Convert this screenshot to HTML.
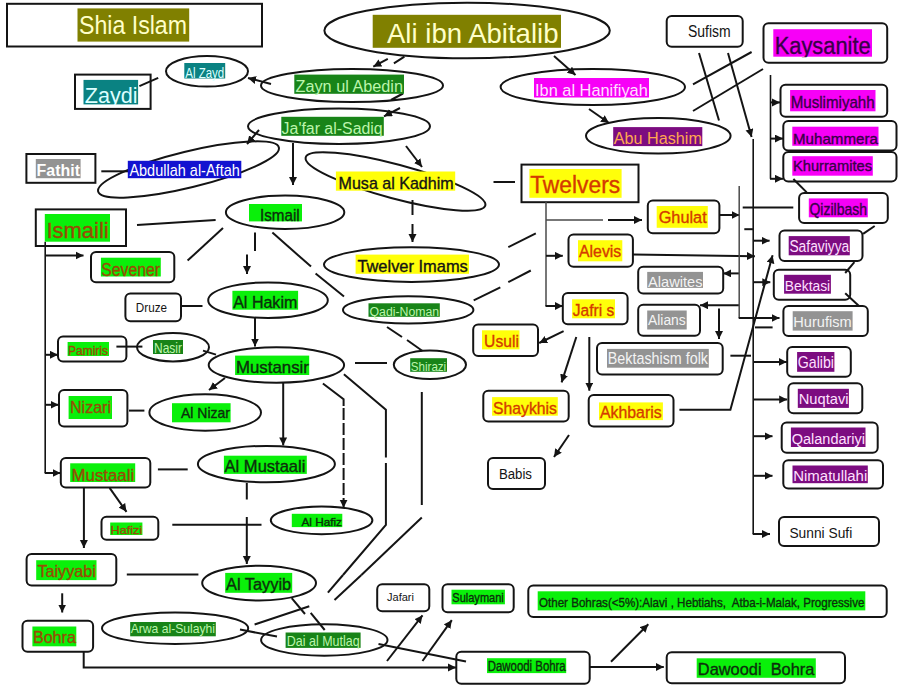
<!DOCTYPE html>
<html><head><meta charset="utf-8"><style>
html,body{margin:0;padding:0;background:#fff;}
body{width:900px;height:695px;overflow:hidden;}
svg{display:block;font-family:"Liberation Sans",sans-serif;}
.s{fill:#fff;stroke:#141414;stroke-width:2;}
.l{fill:none;stroke:#141414;stroke-width:2;}
.lt{fill:none;stroke:#4a4a4a;stroke-width:1.5;}
.lm{fill:none;stroke:#141414;stroke-width:1.6;}
text{stroke-width:0.35;paint-order:stroke;white-space:pre;}
</style></head><body>
<svg width="900" height="695" viewBox="0 0 900 695">
<defs><clipPath id="c0"><rect x="83.5" y="79.9" width="54.6" height="25.0"/></clipPath><clipPath id="c1"><rect x="773.3" y="29.2" width="98.7" height="28.0"/></clipPath><marker id="ah" markerUnits="userSpaceOnUse" markerWidth="10" markerHeight="10" refX="8" refY="4" orient="auto"><path d="M0,0 L8,4 L0,8 z" fill="#141414"/></marker></defs>
<rect x="7" y="3.8" width="255.0" height="42.7" rx="0" class="s"/>
<rect x="75" y="74.6" width="75.6" height="34.3" rx="0" class="s"/>
<rect x="26.4" y="154" width="69.0" height="28.8" rx="0" class="s"/>
<rect x="35.8" y="209.4" width="90.2" height="36.6" rx="0" class="s"/>
<rect x="91" y="252" width="83.3" height="30.3" rx="5" class="s"/>
<rect x="125.4" y="293.4" width="55.6" height="27.9" rx="5" class="s"/>
<rect x="58" y="336.6" width="68.4" height="24.8" rx="5" class="s"/>
<rect x="59" y="390" width="68.4" height="36.6" rx="5" class="s"/>
<rect x="60.8" y="458" width="89.5" height="29.6" rx="5" class="s"/>
<rect x="101.5" y="516.7" width="56.8" height="23.1" rx="5" class="s"/>
<rect x="26.6" y="554.1" width="89.7" height="31.5" rx="5" class="s"/>
<rect x="22.5" y="620.8" width="70.6" height="31.0" rx="5" class="s"/>
<rect x="521.5" y="164.6" width="117.0" height="37.6" rx="0" class="s"/>
<rect x="647.8" y="200.5" width="71.6" height="32.8" rx="5" class="s"/>
<rect x="568.5" y="234.5" width="64.4" height="32.3" rx="5" class="s"/>
<rect x="638.2" y="266.8" width="85.0" height="26.8" rx="5" class="s"/>
<rect x="638.2" y="304.8" width="61.8" height="31.0" rx="5" class="s"/>
<rect x="562.8" y="293" width="64.8" height="31.2" rx="5" class="s"/>
<rect x="473.2" y="324.4" width="64.8" height="31.6" rx="5" class="s"/>
<rect x="597" y="343" width="125.7" height="31.5" rx="5" class="s"/>
<rect x="483.3" y="390.7" width="85.4" height="30.9" rx="5" class="s"/>
<rect x="588.7" y="395.1" width="84.8" height="31.5" rx="5" class="s"/>
<rect x="488" y="458" width="57.0" height="31.0" rx="5" class="s"/>
<rect x="666.7" y="15.9" width="76.0" height="30.9" rx="5" class="s"/>
<rect x="763.5" y="23.3" width="123.7" height="39.5" rx="5" class="s"/>
<rect x="780.5" y="84.7" width="106.7" height="32.0" rx="5" class="s"/>
<rect x="783.3" y="120.9" width="113.2" height="29.6" rx="5" class="s"/>
<rect x="783.3" y="152" width="113.2" height="29.6" rx="5" class="s"/>
<rect x="799.1" y="193.1" width="88.7" height="29.9" rx="5" class="s"/>
<rect x="779.5" y="230.6" width="83.0" height="30.4" rx="5" class="s"/>
<rect x="773.8" y="269.8" width="76.4" height="29.9" rx="5" class="s"/>
<rect x="783.4" y="306" width="84.4" height="29.9" rx="5" class="s"/>
<rect x="787.2" y="346.9" width="63.6" height="29.9" rx="5" class="s"/>
<rect x="788.4" y="383.3" width="73.9" height="29.9" rx="5" class="s"/>
<rect x="781.7" y="422.4" width="96.0" height="30.4" rx="5" class="s"/>
<rect x="783.3" y="460.2" width="99.7" height="28.3" rx="5" class="s"/>
<rect x="779" y="517" width="100.0" height="29.0" rx="5" class="s"/>
<rect x="377.2" y="584.3" width="52.1" height="26.9" rx="5" class="s"/>
<rect x="442.5" y="584.3" width="71.2" height="28.0" rx="5" class="s"/>
<rect x="528.3" y="585.6" width="358.4" height="31.3" rx="5" class="s"/>
<rect x="456.3" y="651.8" width="133.4" height="32.0" rx="5" class="s"/>
<rect x="666.7" y="652.2" width="178.3" height="31.1" rx="5" class="s"/>
<ellipse cx="467.1" cy="30.5" rx="142.7" ry="27.8" class="s"/>
<ellipse cx="207.0" cy="71.3" rx="41.0" ry="15.3" class="s"/>
<ellipse cx="352.0" cy="85.5" rx="91.0" ry="16.5" class="s"/>
<ellipse cx="339.0" cy="126.3" rx="91.0" ry="17.7" class="s"/>
<ellipse cx="188.5" cy="169.5" rx="93" ry="18" class="s" transform="rotate(-13.7 188.5 169.5)"/>
<ellipse cx="395.5" cy="181.5" rx="93" ry="17" class="s" transform="rotate(15 395.5 181.5)"/>
<ellipse cx="592.8" cy="87.0" rx="92.2" ry="18.0" class="s"/>
<ellipse cx="658.3" cy="135.8" rx="72.3" ry="17.8" class="s"/>
<ellipse cx="285.1" cy="212.3" rx="59.2" ry="16.7" class="s"/>
<ellipse cx="411.5" cy="264.6" rx="87.5" ry="17.3" class="s"/>
<ellipse cx="268.0" cy="300.2" rx="59.8" ry="17.8" class="s"/>
<ellipse cx="408.2" cy="309.9" rx="65.2" ry="13.6" class="s"/>
<ellipse cx="173.0" cy="347.2" rx="36.0" ry="14.2" class="s"/>
<ellipse cx="276.4" cy="365.0" rx="67.7" ry="17.8" class="s"/>
<ellipse cx="429.9" cy="364.8" rx="36.1" ry="14.2" class="s"/>
<ellipse cx="205.2" cy="412.5" rx="55.8" ry="18.2" class="s"/>
<ellipse cx="266.4" cy="464.1" rx="68.5" ry="18.2" class="s"/>
<ellipse cx="321.6" cy="520.3" rx="50.8" ry="13.9" class="s"/>
<ellipse cx="259.1" cy="583.1" rx="56.9" ry="17.4" class="s"/>
<ellipse cx="175.1" cy="628.2" rx="73.1" ry="15.8" class="s"/>
<ellipse cx="324.3" cy="640.0" rx="63.2" ry="15.7" class="s"/>
<polyline points="139.4,86.1 158.2,77.8" class="l"/>
<polyline points="271.0,84.0 248.0,78.0" class="l" marker-end="url(#ah)"/>
<polyline points="387.8,58.9 373.3,66.7" class="l" marker-end="url(#ah)"/>
<polyline points="404.4,56.7 393.9,63.3" class="l"/>
<polyline points="403.0,93.5 391.0,100.0" class="l"/>
<polyline points="400.0,108.0 384.0,116.3" class="l" marker-end="url(#ah)"/>
<polyline points="554.0,56.0 575.5,75.0" class="l" marker-end="url(#ah)"/>
<polyline points="589.0,109.0 609.0,123.0" class="l" marker-end="url(#ah)"/>
<polyline points="259.0,130.0 247.0,144.0" class="l" marker-end="url(#ah)"/>
<polyline points="101.3,171.3 128.0,171.3" class="l"/>
<polyline points="293.0,143.0 293.0,185.0" class="l" marker-end="url(#ah)"/>
<polyline points="406.0,146.0 422.0,167.0" class="l" marker-end="url(#ah)"/>
<polyline points="493.5,182.0 515.0,182.0" class="l"/>
<polyline points="412.5,200.0 412.5,215.0" class="l"/>
<polyline points="412.5,224.0 412.5,242.0" class="l" marker-end="url(#ah)"/>
<polyline points="137.0,225.0 215.6,220.0" class="l"/>
<polyline points="223.0,228.0 187.6,260.6" class="l"/>
<polyline points="45.2,241.7 45.2,473.0" class="lm"/>
<polyline points="44.7,473.0 60.5,473.0" class="l" marker-end="url(#ah)"/>
<polyline points="45.2,255.4 83.5,255.4" class="l" marker-end="url(#ah)"/>
<polyline points="45.2,354.8 58.0,354.8" class="l" marker-end="url(#ah)"/>
<polyline points="45.2,404.8 58.6,404.8" class="l" marker-end="url(#ah)"/>
<polyline points="255.0,232.6 255.0,251.0" class="l"/>
<polyline points="247.0,254.6 247.0,274.0" class="l" marker-end="url(#ah)"/>
<polyline points="272.4,232.6 311.0,266.6" class="l"/>
<polyline points="315.6,273.4 344.0,296.6" class="l"/>
<polyline points="181.0,306.0 202.5,306.0" class="l"/>
<polyline points="255.0,318.0 255.0,346.5" class="l" marker-end="url(#ah)"/>
<polyline points="116.4,346.6 142.4,346.6" class="l"/>
<polyline points="203.0,350.6 216.0,354.6" class="l"/>
<polyline points="225.0,378.0 209.0,390.0" class="l" marker-end="url(#ah)"/>
<polyline points="129.0,410.6 144.4,410.6" class="l"/>
<polyline points="283.2,382.8 283.2,445.4" class="l" marker-end="url(#ah)"/>
<polyline points="157.9,469.4 187.7,469.4" class="l"/>
<polyline points="109.6,487.8 126.5,511.8" class="l" marker-end="url(#ah)"/>
<polyline points="83.9,487.6 83.9,548.0" class="l" marker-end="url(#ah)"/>
<polyline points="172.3,524.8 261.5,524.8" class="l"/>
<polyline points="246.8,483.0 246.8,499.5" class="l"/>
<polyline points="246.8,517.0 246.8,564.0" class="l" marker-end="url(#ah)"/>
<polyline points="322.9,383.5 343.6,399.2 343.6,406.0" class="l"/>
<polyline points="343.6,408.0 343.6,507.7" class="l" marker-end="url(#ah)" stroke-dasharray="12,3"/>
<polyline points="343.9,374.2 385.9,409.7 385.9,457.5" class="l"/>
<polyline points="385.9,463.0 385.9,525.0 343.0,575.0" class="l"/>
<polyline points="355.0,363.0 387.0,363.0" class="l"/>
<polyline points="387.0,327.0 402.0,337.0" class="l"/>
<polyline points="407.0,340.0 422.5,351.0" class="l"/>
<polyline points="421.8,392.0 421.8,505.0" class="l"/>
<polyline points="421.8,517.5 361.4,575.0" class="l"/>
<polyline points="343.0,575.0 327.9,592.6" class="l"/>
<polyline points="361.4,575.0 334.5,600.0" class="l"/>
<polyline points="473.7,300.4 500.3,287.3" class="l"/>
<polyline points="508.3,282.1 530.8,270.5" class="l"/>
<polyline points="508.3,247.1 535.8,233.4" class="l"/>
<polyline points="126.8,574.5 198.4,574.5" class="l"/>
<polyline points="62.2,593.3 62.2,612.5" class="l" marker-end="url(#ah)"/>
<polyline points="83.7,651.8 83.7,667.4 456.0,667.4" class="l" marker-end="url(#ah)"/>
<polyline points="291.7,598.2 305.0,614.0" class="l"/>
<polyline points="310.7,612.9 324.7,630.0" class="l"/>
<polyline points="254.6,624.5 309.3,606.3" class="l"/>
<polyline points="240.0,629.6 277.0,636.6" class="l"/>
<polyline points="378.5,644.0 466.0,661.5" class="l"/>
<polyline points="387.0,661.0 422.5,615.3" class="l" marker-end="url(#ah)"/>
<polyline points="422.5,661.0 451.8,620.2" class="l" marker-end="url(#ah)"/>
<polyline points="611.0,661.7 648.3,624.3" class="l" marker-end="url(#ah)"/>
<polyline points="589.7,667.0 663.8,667.0" class="l" marker-end="url(#ah)"/>
<polyline points="546.0,202.0 546.0,306.0" class="lt"/>
<polyline points="545.5,306.0 562.8,306.0" class="l" marker-end="url(#ah)"/>
<polyline points="546.0,220.0 603.0,220.0" class="lt"/>
<polyline points="608.0,220.0 642.0,220.0" class="l" marker-end="url(#ah)"/>
<polyline points="546.0,255.8 562.8,255.8" class="l" marker-end="url(#ah)"/>
<polyline points="719.4,215.0 739.5,215.0" class="l" marker-end="url(#ah)"/>
<polyline points="632.9,254.6 754.9,256.2" class="l" marker-end="url(#ah)"/>
<polyline points="739.2,273.4 723.2,273.4" class="l" marker-end="url(#ah)"/>
<polyline points="739.2,305.2 700.0,305.2" class="l" marker-end="url(#ah)"/>
<polyline points="719.0,308.4 719.0,339.0" class="l" marker-end="url(#ah)"/>
<polyline points="563.6,331.2 539.2,343.0" class="l" marker-end="url(#ah)"/>
<polyline points="576.3,337.0 561.6,382.4" class="l" marker-end="url(#ah)"/>
<polyline points="589.3,337.0 589.3,390.7" class="l" marker-end="url(#ah)"/>
<polyline points="569.0,435.0 554.0,457.0" class="l" marker-end="url(#ah)"/>
<polyline points="679.4,409.8 730.4,409.8 772.6,255.3" class="l" marker-end="url(#ah)"/>
<polyline points="730.4,355.7 751.0,355.7" class="l"/>
<polyline points="739.2,186.0 739.2,318.1" class="lt"/>
<polyline points="738.7,318.1 779.5,318.1" class="l" marker-end="url(#ah)"/>
<polyline points="753.2,139.0 753.2,534.0" class="lm"/>
<polyline points="752.7,534.0 770.0,534.0" class="l" marker-end="url(#ah)"/>
<polyline points="742.7,207.6 793.3,207.6" class="l"/>
<polyline points="744.3,229.2 753.2,229.2" class="l"/>
<polyline points="753.2,240.7 769.6,240.7" class="l" marker-end="url(#ah)"/>
<polyline points="753.2,282.2 770.3,282.2" class="l" marker-end="url(#ah)"/>
<polyline points="754.9,327.4 772.6,327.4" class="l"/>
<polyline points="753.2,361.9 786.8,361.9" class="l" marker-end="url(#ah)"/>
<polyline points="753.2,399.4 787.2,399.4" class="l" marker-end="url(#ah)"/>
<polyline points="753.2,436.2 772.5,436.2" class="l" marker-end="url(#ah)"/>
<polyline points="753.2,475.8 772.5,475.8" class="l" marker-end="url(#ah)"/>
<polyline points="793.4,179.0 806.7,192.4" class="l"/>
<polyline points="874.7,226.0 863.1,233.8" class="l"/>
<polyline points="854.4,262.2 845.2,273.0" class="l"/>
<polyline points="845.2,293.3 859.0,306.0" class="l"/>
<polyline points="770.5,75.0 770.5,178.8" class="lm"/>
<polyline points="770.0,178.8 783.0,178.8" class="l" marker-end="url(#ah)"/>
<polyline points="770.5,102.4 780.0,102.4" class="l" marker-end="url(#ah)"/>
<polyline points="770.5,138.6 783.0,138.6" class="l" marker-end="url(#ah)"/>
<polyline points="699.0,53.0 719.0,120.5" class="l"/>
<polyline points="728.0,53.0 751.6,137.0" class="l" marker-end="url(#ah)"/>
<polyline points="751.6,52.0 693.0,84.4" class="l"/>
<polyline points="763.0,69.0 693.0,111.0" class="l"/>
<rect x="77.5" y="8.4" width="111.7" height="33.2" fill="#808000"/>
<text x="79.0" y="34.4" font-size="25.9" fill="#ffffc8" textLength="108.0" lengthAdjust="spacingAndGlyphs">Shia Islam</text>
<rect x="83.5" y="79.9" width="54.6" height="24.5" fill="#0a8282"/>
<text clip-path="url(#c0)" x="84.8" y="103.4" font-size="22.5" fill="#dcffff" textLength="52.8" lengthAdjust="spacingAndGlyphs">Zaydi</text>
<rect x="35.8" y="159.0" width="44.8" height="19.2" fill="#939393"/>
<text x="36.6" y="176.2" font-size="16.3" fill="#ffffff" textLength="43.4" lengthAdjust="spacingAndGlyphs" font-weight="bold">Fathit</text>
<rect x="44.8" y="214.0" width="65.2" height="27.7" fill="#0af00a"/>
<text x="46.4" y="237.6" font-size="22.7" fill="#9a4a06" textLength="62.3" lengthAdjust="spacingAndGlyphs" stroke="#9a4a06">Ismaili</text>
<rect x="100.9" y="257.7" width="59.9" height="18.8" fill="#0af00a"/>
<text x="101.3" y="275.8" font-size="17.9" fill="#9a4a06" textLength="58.8" lengthAdjust="spacingAndGlyphs" stroke="#9a4a06">Sevener</text>
<text x="135.8" y="312.2" font-size="12.6" fill="#141414" textLength="31.2" lengthAdjust="spacingAndGlyphs">Druze</text>
<rect x="67.6" y="342.0" width="41.4" height="14.0" fill="#0af00a"/>
<text x="68.0" y="355.0" font-size="12.2" fill="#9a4a06" textLength="40.0" lengthAdjust="spacingAndGlyphs" stroke="#9a4a06">Pamiris</text>
<rect x="68.6" y="396.0" width="43.4" height="23.0" fill="#0af00a"/>
<text x="70.0" y="413.4" font-size="16.6" fill="#9a4a06" textLength="41.0" lengthAdjust="spacingAndGlyphs" stroke="#9a4a06">Nizari</text>
<rect x="70.2" y="463.3" width="65.0" height="18.7" fill="#0af00a"/>
<text x="71.6" y="481.0" font-size="16.7" fill="#9a4a06" textLength="62.6" lengthAdjust="spacingAndGlyphs" stroke="#9a4a06">Mustaali</text>
<rect x="110.2" y="522.5" width="32.2" height="12.5" fill="#0af00a"/>
<text x="110.6" y="533.8" font-size="10.9" fill="#9a4a06" textLength="31.4" lengthAdjust="spacingAndGlyphs" stroke="#9a4a06">Hafizi</text>
<rect x="36.2" y="560.2" width="60.3" height="19.9" fill="#0af00a"/>
<text x="37.4" y="576.5" font-size="15.7" fill="#9a4a06" textLength="58.4" lengthAdjust="spacingAndGlyphs" stroke="#9a4a06">Taiyyabi</text>
<rect x="32.4" y="626.5" width="43.9" height="19.8" fill="#0af00a"/>
<text x="32.9" y="643.0" font-size="16.1" fill="#9a4a06" textLength="43.0" lengthAdjust="spacingAndGlyphs" stroke="#9a4a06">Bohra</text>
<rect x="529.4" y="169.0" width="92.2" height="28.8" fill="#ffff0a"/>
<text x="530.2" y="192.9" font-size="23.1" fill="#d43a00" textLength="90.0" lengthAdjust="spacingAndGlyphs" stroke="#d43a00">Twelvers</text>
<rect x="656.7" y="206.0" width="51.1" height="21.8" fill="#ffff0a"/>
<text x="658.7" y="223.3" font-size="16.9" fill="#d43a00" textLength="48.0" lengthAdjust="spacingAndGlyphs" stroke="#d43a00">Ghulat</text>
<rect x="578.0" y="240.2" width="44.3" height="21.1" fill="#ffff0a"/>
<text x="579.0" y="257.1" font-size="16.0" fill="#d43a00" textLength="42.3" lengthAdjust="spacingAndGlyphs" stroke="#d43a00">Alevis</text>
<rect x="647.2" y="271.9" width="55.8" height="16.0" fill="#939393"/>
<text x="648.0" y="286.6" font-size="14.4" fill="#f4f4f4" textLength="54.5" lengthAdjust="spacingAndGlyphs">Alawites</text>
<rect x="647.2" y="310.5" width="39.5" height="19.0" fill="#939393"/>
<text x="648.0" y="325.3" font-size="15.4" fill="#f4f4f4" textLength="37.7" lengthAdjust="spacingAndGlyphs">Alians</text>
<rect x="572.1" y="299.3" width="42.9" height="19.0" fill="#ffff0a"/>
<text x="572.7" y="316.2" font-size="17.4" fill="#d43a00" textLength="41.6" lengthAdjust="spacingAndGlyphs" stroke="#d43a00">Jafri s</text>
<rect x="482.0" y="330.3" width="37.5" height="19.1" fill="#ffff0a"/>
<text x="484.1" y="347.1" font-size="17.2" fill="#d43a00" textLength="34.8" lengthAdjust="spacingAndGlyphs" stroke="#d43a00">Usuli</text>
<rect x="607.0" y="348.9" width="101.8" height="18.8" fill="#939393"/>
<text x="607.8" y="364.2" font-size="16.3" fill="#f4f4f4" textLength="100.2" lengthAdjust="spacingAndGlyphs">Bektashism folk</text>
<rect x="492.1" y="397.1" width="65.7" height="18.6" fill="#ffff0a"/>
<text x="493.0" y="413.6" font-size="17.0" fill="#d43a00" textLength="63.9" lengthAdjust="spacingAndGlyphs" stroke="#d43a00">Shaykhis</text>
<rect x="599.0" y="402.4" width="63.9" height="17.7" fill="#ffff0a"/>
<text x="599.9" y="417.8" font-size="17.2" fill="#d43a00" textLength="61.8" lengthAdjust="spacingAndGlyphs" stroke="#d43a00">Akhbaris</text>
<text x="498.9" y="478.8" font-size="13.8" fill="#141414" textLength="33.1" lengthAdjust="spacingAndGlyphs">Babis</text>
<text x="688.0" y="37.2" font-size="15.6" fill="#141414" textLength="42.7" lengthAdjust="spacingAndGlyphs">Sufism</text>
<rect x="773.3" y="29.2" width="98.7" height="27.5" fill="#f700f7"/>
<text clip-path="url(#c1)" x="774.7" y="53.6" font-size="23.0" fill="#380048" textLength="96.0" lengthAdjust="spacingAndGlyphs" stroke="#380048">Kaysanite</text>
<rect x="790.1" y="90.0" width="85.4" height="21.3" fill="#f700f7"/>
<text x="790.7" y="108.1" font-size="16.6" fill="#380048" textLength="84.0" lengthAdjust="spacingAndGlyphs" stroke="#380048">Muslimiyahh</text>
<rect x="792.3" y="126.7" width="86.2" height="19.1" fill="#f700f7"/>
<text x="793.0" y="143.8" font-size="14.7" fill="#380048" textLength="84.9" lengthAdjust="spacingAndGlyphs" stroke="#380048">Muhammera</text>
<rect x="792.3" y="156.2" width="80.5" height="19.5" fill="#f700f7"/>
<text x="793.0" y="171.3" font-size="14.0" fill="#380048" textLength="79.0" lengthAdjust="spacingAndGlyphs" stroke="#380048">Khurramites</text>
<rect x="808.8" y="198.4" width="59.0" height="18.9" fill="#f700f7"/>
<text x="809.5" y="214.5" font-size="16.1" fill="#380048" textLength="57.5" lengthAdjust="spacingAndGlyphs" stroke="#380048">Qizilbash</text>
<rect x="788.7" y="236.1" width="61.1" height="19.2" fill="#7c0c80"/>
<text x="789.4" y="252.3" font-size="16.7" fill="#ffe0ff" textLength="59.9" lengthAdjust="spacingAndGlyphs">Safaviyya</text>
<rect x="784.1" y="274.8" width="46.8" height="18.9" fill="#7c0c80"/>
<text x="784.8" y="290.5" font-size="15.4" fill="#ffe0ff" textLength="45.4" lengthAdjust="spacingAndGlyphs">Bektasi</text>
<rect x="792.7" y="311.2" width="59.9" height="19.4" fill="#939393"/>
<text x="793.3" y="326.7" font-size="15.1" fill="#f4f4f4" textLength="58.3" lengthAdjust="spacingAndGlyphs">Hurufism</text>
<rect x="797.1" y="352.0" width="37.3" height="19.8" fill="#7c0c80"/>
<text x="797.8" y="368.1" font-size="15.7" fill="#ffe0ff" textLength="36.2" lengthAdjust="spacingAndGlyphs">Galibi</text>
<rect x="797.8" y="388.8" width="51.1" height="19.1" fill="#7c0c80"/>
<text x="798.7" y="404.0" font-size="14.4" fill="#ffe0ff" textLength="49.8" lengthAdjust="spacingAndGlyphs">Nuqtavi</text>
<rect x="790.9" y="427.5" width="74.6" height="19.5" fill="#7c0c80"/>
<text x="791.8" y="443.6" font-size="15.1" fill="#ffe0ff" textLength="73.2" lengthAdjust="spacingAndGlyphs">Qalandariyi</text>
<rect x="792.5" y="465.5" width="75.3" height="17.7" fill="#7c0c80"/>
<text x="793.2" y="480.9" font-size="14.7" fill="#ffe0ff" textLength="74.1" lengthAdjust="spacingAndGlyphs">Nimatullahi</text>
<text x="789.4" y="538.0" font-size="14.8" fill="#141414" textLength="62.8" lengthAdjust="spacingAndGlyphs">Sunni Sufi</text>
<text x="387.0" y="601.4" font-size="11.8" fill="#141414" textLength="27.0" lengthAdjust="spacingAndGlyphs">Jafari</text>
<rect x="451.5" y="589.7" width="53.4" height="14.6" fill="#0af00a"/>
<text x="452.3" y="602.2" font-size="12.4" fill="#0c2e0c" textLength="51.5" lengthAdjust="spacingAndGlyphs" stroke="#0c2e0c">Sulaymani</text>
<rect x="537.7" y="591.3" width="327.6" height="19.1" fill="#0af00a"/>
<text x="539.0" y="606.5" font-size="12.8" fill="#0c2e0c" textLength="325.4" lengthAdjust="spacingAndGlyphs" stroke="#0c2e0c">Other Bohras(&lt;5%):Alavi , Hebtiahs,  Atba-i-Malak, Progressive</text>
<rect x="487.0" y="658.2" width="79.2" height="14.9" fill="#0af00a"/>
<text x="487.8" y="670.5" font-size="14.0" fill="#0c2e0c" textLength="77.9" lengthAdjust="spacingAndGlyphs" stroke="#0c2e0c">Dawoodi Bohra</text>
<rect x="696.7" y="658.3" width="119.1" height="19.5" fill="#0af00a"/>
<text x="697.8" y="675.0" font-size="17.0" fill="#0c2e0c" textLength="116.6" lengthAdjust="spacingAndGlyphs" stroke="#0c2e0c">Dawoodi  Bohra</text>
<rect x="372.7" y="14.8" width="188.3" height="33.0" fill="#808000"/>
<text x="387.0" y="42.9" font-size="27.5" fill="#ffffc8" textLength="171.5" lengthAdjust="spacingAndGlyphs">Ali ibn Abitalib</text>
<rect x="184.3" y="63.0" width="40.9" height="15.5" fill="#0a8282"/>
<text x="185.2" y="77.8" font-size="13.8" fill="#dcffff" textLength="39.1" lengthAdjust="spacingAndGlyphs">Al Zayd</text>
<rect x="294.3" y="74.6" width="109.7" height="19.2" fill="#188418"/>
<text x="295.5" y="92.2" font-size="16.0" fill="#bcf5ac" textLength="107.5" lengthAdjust="spacingAndGlyphs">Zayn ul Abedin</text>
<rect x="281.3" y="116.8" width="102.5" height="19.0" fill="#188418"/>
<text x="281.6" y="133.9" font-size="17.3" fill="#bcf5ac" textLength="101.1" lengthAdjust="spacingAndGlyphs">Ja'far al-Sadiq</text>
<rect x="127.8" y="160.8" width="113.5" height="17.4" fill="#1212d0"/>
<text x="129.4" y="176.2" font-size="15.7" fill="#ffffff" textLength="110.4" lengthAdjust="spacingAndGlyphs">Abdullah al-Aftah</text>
<rect x="335.9" y="171.5" width="119.3" height="19.2" fill="#ffff0a"/>
<text x="338.6" y="189.1" font-size="16.4" fill="#141414" textLength="115.0" lengthAdjust="spacingAndGlyphs" stroke="#141414">Musa al Kadhim</text>
<rect x="534.0" y="78.0" width="115.0" height="19.5" fill="#f700f7"/>
<text x="535.0" y="95.7" font-size="17.4" fill="#ffe0ff" textLength="112.8" lengthAdjust="spacingAndGlyphs">Ibn al Hanifiyah</text>
<rect x="613.2" y="127.1" width="89.1" height="19.0" fill="#7c0c80"/>
<text x="613.7" y="144.2" font-size="17.2" fill="#ffa850" textLength="88.2" lengthAdjust="spacingAndGlyphs">Abu Hashim</text>
<rect x="249.0" y="204.0" width="53.0" height="17.4" fill="#0af00a"/>
<text x="260.0" y="220.6" font-size="16.3" fill="#0c2e0c" textLength="39.7" lengthAdjust="spacingAndGlyphs" stroke="#0c2e0c">Ismail</text>
<rect x="355.6" y="254.6" width="113.4" height="19.2" fill="#ffff0a"/>
<text x="357.4" y="271.7" font-size="16.1" fill="#141414" textLength="110.4" lengthAdjust="spacingAndGlyphs" stroke="#141414">Twelver Imams</text>
<rect x="232.4" y="290.8" width="65.7" height="18.9" fill="#0af00a"/>
<text x="233.2" y="308.2" font-size="16.9" fill="#0c2e0c" textLength="64.1" lengthAdjust="spacingAndGlyphs" stroke="#0c2e0c">Al Hakim</text>
<rect x="368.5" y="303.3" width="71.3" height="13.5" fill="#188418"/>
<text x="369.5" y="315.8" font-size="12.5" fill="#bcf5ac" textLength="69.7" lengthAdjust="spacingAndGlyphs">Qadi-Noman</text>
<rect x="153.0" y="340.0" width="30.0" height="14.0" fill="#188418"/>
<text x="154.0" y="353.0" font-size="14.0" fill="#bcf5ac" textLength="28.0" lengthAdjust="spacingAndGlyphs">Nasir</text>
<rect x="235.1" y="355.6" width="74.1" height="19.4" fill="#0af00a"/>
<text x="236.0" y="372.6" font-size="16.1" fill="#0c2e0c" textLength="72.9" lengthAdjust="spacingAndGlyphs" stroke="#0c2e0c">Mustansir</text>
<rect x="410.2" y="358.2" width="36.8" height="13.6" fill="#188418"/>
<text x="410.8" y="371.2" font-size="13.4" fill="#bcf5ac" textLength="35.4" lengthAdjust="spacingAndGlyphs">Shirazi</text>
<rect x="172.0" y="403.2" width="58.6" height="19.1" fill="#0af00a"/>
<text x="181.0" y="417.9" font-size="14.4" fill="#0c2e0c" textLength="49.0" lengthAdjust="spacingAndGlyphs" stroke="#0c2e0c">Al Nizar</text>
<rect x="223.9" y="455.7" width="82.9" height="18.2" fill="#0af00a"/>
<text x="224.6" y="471.7" font-size="16.1" fill="#0c2e0c" textLength="80.8" lengthAdjust="spacingAndGlyphs" stroke="#0c2e0c">Al Mustaali</text>
<rect x="291.8" y="513.8" width="50.5" height="13.3" fill="#0af00a"/>
<text x="301.4" y="526.2" font-size="11.8" fill="#0c2e0c" textLength="40.6" lengthAdjust="spacingAndGlyphs" stroke="#0c2e0c">Al Hafiz</text>
<rect x="225.2" y="572.9" width="67.0" height="19.9" fill="#0af00a"/>
<text x="226.0" y="590.3" font-size="16.0" fill="#0c2e0c" textLength="65.2" lengthAdjust="spacingAndGlyphs" stroke="#0c2e0c">Al Tayyib</text>
<rect x="130.2" y="622.0" width="85.6" height="14.3" fill="#188418"/>
<text x="130.7" y="633.0" font-size="13.1" fill="#bcf5ac" textLength="84.3" lengthAdjust="spacingAndGlyphs">Arwa al-Sulayhi</text>
<rect x="285.6" y="632.5" width="75.0" height="15.4" fill="#188418"/>
<text x="286.8" y="645.9" font-size="15.0" fill="#bcf5ac" textLength="72.8" lengthAdjust="spacingAndGlyphs">Dai al Mutlaq</text>
</svg>
</body></html>
